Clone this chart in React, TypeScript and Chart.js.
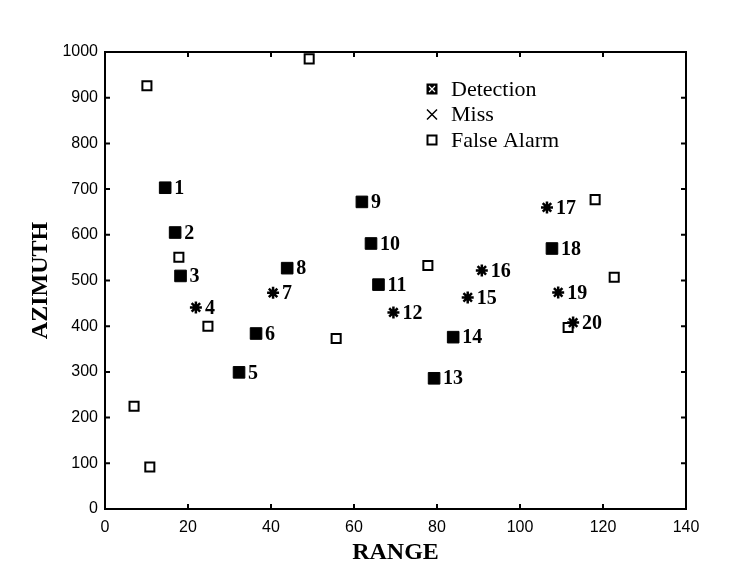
import React, { useEffect, useRef } from "react";
import { Chart, registerables } from "chart.js";

Chart.register(...registerables);

// ---- Data ----
const detectionIds = [1, 2, 3, 5, 6, 8, 9, 10, 11, 13, 14, 18];
const detectionRange = [14.5, 16.9, 18.2, 32.3, 36.4, 43.9, 61.9, 64.1, 65.9, 79.3, 83.9, 107.7];
const detectionAzimuth = [703, 605, 510, 299, 384, 527, 672, 581, 491, 286, 376, 570];

const missIds = [4, 7, 12, 15, 16, 17, 19, 20];
const missRange = [21.9, 40.5, 69.5, 87.4, 90.8, 106.5, 109.2, 112.8];
const missAzimuth = [441, 473, 430, 463, 522, 660, 474, 408];

const falseAlarmRange = [7.0, 10.8, 10.1, 49.2, 17.8, 24.8, 55.7, 77.8, 118.1, 122.7, 111.6];
const falseAlarmAzimuth = [225, 92, 926, 985, 551, 400, 373, 533, 677, 507, 397];

const seriesLabels = ["Detection", "Miss", "False Alarm"];

const xMin = 0, xMax = 140, xStep = 20;
const yMin = 0, yMax = 1000, yStep = 100;

const toPoints = (xs: number[], ys: number[]) => xs.map((x, i) => ({ x, y: ys[i] }));

const SERIF = "'Liberation Serif', 'Times New Roman', serif";
const SANS = "'Liberation Sans', Arial, sans-serif";

const framePlugin = {
  id: "frameTicks",
  beforeDatasetsDraw(chart: any) {
    const { ctx, chartArea } = chart;
    const { left, right, top, bottom } = chartArea;
    const xs = chart.scales.x;
    const ys = chart.scales.y;
    const tl = 5;
    ctx.save();
    ctx.strokeStyle = "#000";
    ctx.lineWidth = 2;
    ctx.strokeRect(left, top, right - left, bottom - top);
    ctx.beginPath();
    xs.ticks.forEach((t: any) => {
      const px = xs.getPixelForValue(t.value);
      if (t.value === xMin || t.value === xMax) return;
      ctx.moveTo(px, bottom);
      ctx.lineTo(px, bottom - tl);
      ctx.moveTo(px, top);
      ctx.lineTo(px, top + tl);
    });
    ys.ticks.forEach((t: any) => {
      const py = ys.getPixelForValue(t.value);
      if (t.value === yMin || t.value === yMax) return;
      ctx.moveTo(left, py);
      ctx.lineTo(left + tl, py);
      ctx.moveTo(right, py);
      ctx.lineTo(right - tl, py);
    });
    ctx.stroke();
    ctx.restore();
  },
};

const labelPlugin = {
  id: "pointLabels",
  afterDatasetsDraw(chart: any) {
    const { ctx } = chart;
    ctx.save();
    ctx.fillStyle = "#000";
    ctx.font = `bold 20px ${SERIF}`;
    ctx.textAlign = "left";
    ctx.textBaseline = "middle";
    chart.data.datasets.forEach((ds: any, di: number) => {
      if (!ds.ids) return;
      const meta = chart.getDatasetMeta(di);
      meta.data.forEach((el: any, i: number) => {
        ctx.fillText(String(ds.ids[i]), el.x + 9, el.y + 1);
      });
    });
    ctx.restore();
  },
};

const legendPlugin = {
  id: "customLegend",
  afterDraw(chart: any, _args: any, opts: any) {
    const { ctx } = chart;
    const x0 = opts.x, y0 = opts.y, gap = opts.gap;
    const s = 11;
    ctx.save();
    ctx.font = `22px ${SERIF}`;
    ctx.textBaseline = "middle";
    ctx.textAlign = "left";
    chart.data.datasets.forEach((ds: any, i: number) => {
      const cy = y0 + i * gap;
      const cx = x0;
      ctx.strokeStyle = "#000";
      ctx.fillStyle = "#000";
      if (i === 0) {
        ctx.fillRect(cx - s / 2, cy - s / 2, s, s);
        ctx.strokeStyle = "#fff";
        ctx.lineWidth = 1.2;
        ctx.beginPath();
        ctx.moveTo(cx - 3, cy - 3);
        ctx.lineTo(cx + 3, cy + 3);
        ctx.moveTo(cx + 3, cy - 3);
        ctx.lineTo(cx - 3, cy + 3);
        ctx.stroke();
      } else if (i === 1) {
        ctx.lineWidth = 1.5;
        ctx.beginPath();
        ctx.moveTo(cx - 5, cy - 5);
        ctx.lineTo(cx + 5, cy + 5);
        ctx.moveTo(cx + 5, cy - 5);
        ctx.lineTo(cx - 5, cy + 5);
        ctx.stroke();
      } else {
        ctx.lineWidth = 2;
        ctx.strokeRect(cx - s / 2 + 1, cy - s / 2 + 1, s - 2, s - 2);
      }
      ctx.fillStyle = "#000";
      ctx.fillText(ds.label, x0 + 19, cy + 1);
    });
    ctx.restore();
  },
};

export default function App() {
  const canvasRef = useRef<HTMLCanvasElement | null>(null);

  useEffect(() => {
    if (!canvasRef.current) return;
    const chart = new Chart(canvasRef.current, {
      type: "scatter",
      data: {
        datasets: [
          {
            label: seriesLabels[0],
            ids: detectionIds,
            data: toPoints(detectionRange, detectionAzimuth),
            pointStyle: "rect",
            pointRadius: 8.2,
            backgroundColor: "#000",
            borderColor: "#000",
            borderWidth: 1,
          } as any,
          {
            label: seriesLabels[1],
            ids: missIds,
            data: toPoints(missRange, missAzimuth),
            pointStyle: "star",
            pointRadius: 6,
            backgroundColor: "#000",
            borderColor: "#000",
            borderWidth: 2.5,
          } as any,
          {
            label: seriesLabels[2],
            data: toPoints(falseAlarmRange, falseAlarmAzimuth),
            pointStyle: "rect",
            pointRadius: 6.4,
            backgroundColor: "#fff",
            borderColor: "#000",
            borderWidth: 2,
          } as any,
        ],
      },
      options: {
        responsive: false,
        animation: false,
        events: [],
        clip: false as any,
        layout: { padding: { top: 52, right: 59, left: 0, bottom: 0 } },
        plugins: {
          legend: { display: false },
          tooltip: { enabled: false },
          customLegend: { x: 432, y: 89, gap: 25.5 },
        } as any,
        scales: {
          x: {
            type: "linear",
            min: xMin,
            max: xMax,
            ticks: {
              stepSize: xStep,
              color: "#000",
              font: { family: SANS, size: 16 },
              padding: 9,
              maxRotation: 0,
              callback: (v: any) => String(v),
            },
            grid: { display: false, drawTicks: false },
            border: { display: false },
            title: {
              display: true,
              text: "RANGE",
              color: "#000",
              font: { family: SERIF, size: 24, weight: "bold" },
              padding: { top: 0, bottom: 2 },
            },
            afterFit: (s: any) => {
              s.height = 60;
            },
          },
          y: {
            type: "linear",
            min: yMin,
            max: yMax,
            ticks: {
              stepSize: yStep,
              color: "#000",
              font: { family: SANS, size: 16 },
              padding: 7,
              callback: (v: any) => String(v),
            },
            grid: { display: false, drawTicks: false },
            border: { display: false },
            title: {
              display: true,
              text: "AZIMUTH",
              color: "#000",
              font: { family: SERIF, size: 24, weight: "bold" },
              padding: { top: 26, bottom: 0 },
            },
            afterFit: (s: any) => {
              s.width = 105;
            },
          },
        },
      },
      plugins: [framePlugin, labelPlugin, legendPlugin],
    });
    return () => chart.destroy();
  }, []);

  return (
    <div style={{ position: "absolute", left: 0, top: 0, width: 745, height: 569, background: "#fff" }}>
      <canvas ref={canvasRef} width={745} height={569} style={{ display: "block" }} />
    </div>
  );
}
